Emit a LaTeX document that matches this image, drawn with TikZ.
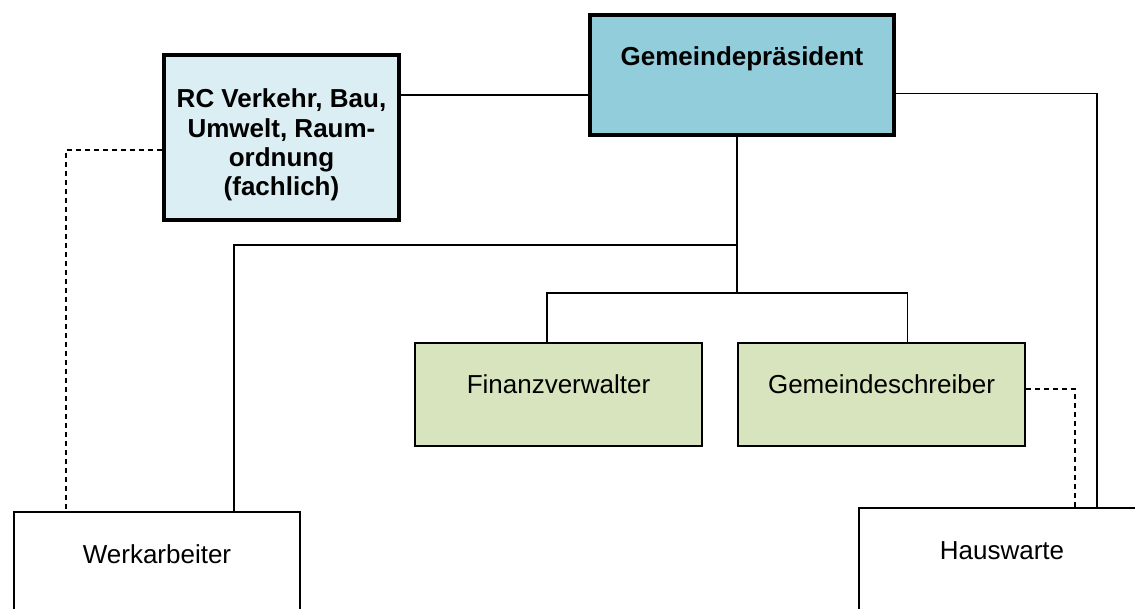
\documentclass[tikz,border=0pt]{standalone}
\usepackage{fontspec}
\setmainfont{Liberation Sans}
\usetikzlibrary{positioning,calc}
\definecolor{presblue}{HTML}{92CDDC}
\definecolor{rcblue}{HTML}{DBEEF3}
\definecolor{staffgreen}{HTML}{D7E4BD}

\begin{document}
\begin{tikzpicture}[x=0.75pt, y=-0.75pt,
    every node/.style={font=\fontsize{19.5pt}{22pt}\selectfont, inner sep=0pt},
    headbox/.style={draw, line width=3pt, anchor=north west},
    staffbox/.style={draw, line width=1.5pt, anchor=north west, fill=staffgreen,
        minimum width=215.25pt, text height=37.5pt, text depth=39.75pt},
    crewbox/.style={draw, line width=1.5pt, anchor=north west, fill=white,
        minimum width=214.5pt, text height=38.25pt, text depth=52.5pt},
    link/.style={line width=1.3pt},
    dlink/.style={line width=1.3pt, dash pattern=on 3.75pt off 3pt}]
    \useasboundingbox (0,0) rectangle (1135,609);

    % Gemeindepraesident
    \node[headbox, fill=presblue, minimum width=228pt, text height=38.25pt, text depth=51.75pt]
        (gp) at (588,13) {\bfseries Gemeindepräsident};

    % RC (fachlich)
    \node[headbox, fill=rcblue, align=center, minimum width=176.25pt, text height=105.75pt, text depth=18pt]
        (rc) at (162,53) {\bfseries RC Verkehr, Bau,\\ \bfseries Umwelt, Raum-\\ \bfseries ordnung\\ \bfseries (fachlich)};

    % Stab
    \node[staffbox] (fv) at (414,342) {Finanzverwalter};
    \node[staffbox] (gs) at (737,342) {Gemeindeschreiber};

    % Personal
    \node[crewbox] (wb) at (13,511) {Werkarbeiter};
    \node[crewbox] (hw) at (858,507) {Hauswarte};

    % Anschlusspunkte
    \coordinate (rcR) at ($(rc.north east)!.25!(rc.south east)$);
    \coordinate (rcL) at ($(rc.north west)!.574!(rc.south west)$);
    \coordinate (gpR) at ($(gp.north east)!.65!(gp.south east)$);
    \coordinate (gpS) at ([xshift=-3.75pt]gp.south);
    \coordinate (fvT) at ($(fv.north west)!.46!(fv.north east)$);
    \coordinate (gsT) at ($(gs.north west)!.59!(gs.north east)$);
    \coordinate (wbT) at ($(wb.north west)!.767!(wb.north east)$);
    \coordinate (wbD) at ($(wb.north west)!.184!(wb.north east)$);
    \coordinate (hwA) at ($(hw.north west)!.83!(hw.north east)$);
    \coordinate (hwD) at ($(hw.north west)!.753!(hw.north east)$);

    % Linien
    \draw[link] (rcR) -- (rcR -| gp.west);
    \draw[link] (gpR) -| (hwA);
    \draw[link] (gpS) -- ++(0,156) coordinate (bus);
    \draw[link] (fvT) |- (bus) -| (gsT);
    \draw[link] (wbT) |- ($(gpS)+(0,108)$);

    % fachliche Unterstellung
    \draw[dlink] (rcL) -| (wbD);
    \draw[dlink] ([yshift=4pt]gs.east) -| (hwD);
\end{tikzpicture}
\end{document}
